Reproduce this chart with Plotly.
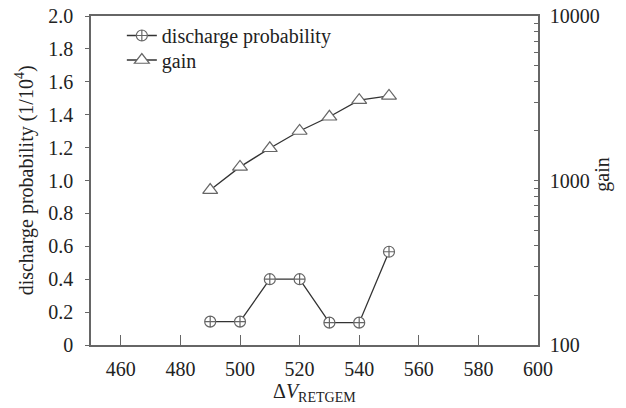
import plotly.graph_objects as go

voltage = [490, 500, 510, 520, 530, 540, 550]
discharge_prob = [0.142, 0.142, 0.40, 0.40, 0.136, 0.136, 0.567]
gain = [875, 1210, 1570, 2000, 2440, 3080, 3270]

x_ticks = [460, 480, 500, 520, 540, 560, 580, 600]
y_ticks = [0, 0.2, 0.4, 0.6, 0.8, 1.0, 1.2, 1.4, 1.6, 1.8, 2.0]
y_ticktext = ["0", "0.2", "0.4", "0.6", "0.8", "1.0", "1.2", "1.4", "1.6", "1.8", "2.0"]
gain_major = [100, 1000, 10000]
gain_major_text = ["100", "1000", "10000"]
gain_minor = [200, 300, 400, 500, 600, 700, 800, 900,
              2000, 3000, 4000, 5000, 6000, 7000, 8000, 9000]

FONT = "Liberation Serif, Times New Roman, serif"
AX = "#666666"
LINE = "#333333"
MK = "#666666"
FS = 20

fig = go.Figure()
fig.add_trace(go.Scatter(
    x=voltage, y=discharge_prob, name="discharge probability",
    mode="lines+markers",
    line=dict(color=LINE, width=1.3),
    marker=dict(symbol="circle-cross", size=11, color="white",
                line=dict(color=MK, width=1.2)),
    yaxis="y", legend="legend",
))
fig.add_trace(go.Scatter(
    x=voltage, y=gain, name="gain",
    mode="lines+markers",
    line=dict(color=LINE, width=1.3),
    marker=dict(symbol="triangle-up", size=13, color="white",
                line=dict(color=MK, width=1.2)),
    yaxis="y2", legend="legend2",
))

legend_common = dict(xanchor="left", yanchor="top", bgcolor="rgba(0,0,0,0)",
                     font=dict(size=FS), itemwidth=30)

fig.update_layout(
    width=626, height=408,
    margin=dict(l=91, r=88, t=16, b=63, autoexpand=False),
    paper_bgcolor="white", plot_bgcolor="white",
    font=dict(family=FONT, size=FS, color="#222222"),
    showlegend=True,
    legend=dict(x=0.069, y=1.0, **legend_common),
    legend2=dict(x=0.069, y=0.9255, **legend_common),
    xaxis=dict(
        range=[450, 600], tickvals=x_ticks,
        ticks="inside", ticklen=10, tickcolor=AX, tickwidth=1.2,
        showline=True, linecolor=AX, linewidth=1.5, mirror=True,
        showgrid=False, zeroline=False, automargin=False,
        ticklabelstandoff=5, ticklabeloverflow="allow",
    ),
    yaxis=dict(
        range=[0, 2.0], tickvals=y_ticks, ticktext=y_ticktext,
        ticks="outside", ticklen=4, tickcolor=AX, tickwidth=1.2,
        showline=True, linecolor=AX, linewidth=1.5,
        showgrid=False, zeroline=False, automargin=False,
        ticklabelstandoff=8, ticklabeloverflow="allow",
    ),
    yaxis2=dict(
        type="log", range=[2, 4], overlaying="y", side="right",
        tickvals=gain_major, ticktext=gain_major_text,
        ticks="inside", ticklen=4, tickcolor=AX, tickwidth=1.2,
        minor=dict(tickvals=gain_minor, ticks="inside", ticklen=4,
                   tickcolor=AX, tickwidth=1.2, showgrid=False),
        showline=True, linecolor=AX, linewidth=1.5,
        showgrid=False, zeroline=False, automargin=False,
        ticklabelstandoff=6, ticklabeloverflow="allow",
    ),
    annotations=[
        dict(text="Δ<i>V</i><sub>RETGEM</sub>", xref="paper", yref="paper",
             x=0.499, y=-0.188, xanchor="center", yanchor="bottom",
             showarrow=False, font=dict(size=FS)),
        dict(text="discharge probability (1/10<sup>4</sup>)", xref="paper", yref="paper",
             x=-0.148, y=0.5, xanchor="center", yanchor="middle", textangle=-90,
             showarrow=False, font=dict(size=FS)),
        dict(text="gain", xref="paper", yref="paper",
             x=1.145, y=0.517, xanchor="center", yanchor="middle", textangle=-90,
             showarrow=False, font=dict(size=FS)),
    ],
)

fig.write_html("out.html",
               config={"displayModeBar": False},
               post_script="document.body.style.margin='0';document.body.style.overflow='hidden';")
